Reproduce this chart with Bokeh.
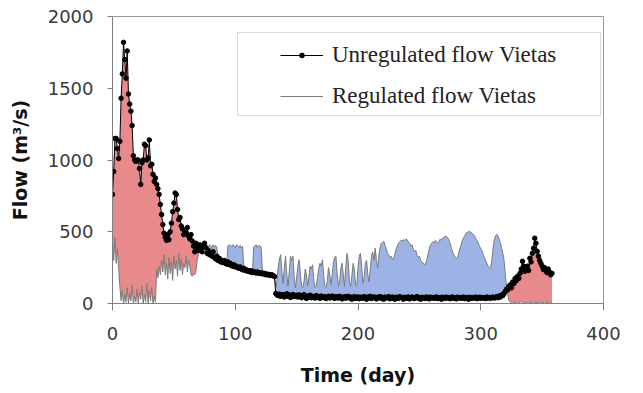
import numpy as np
from bokeh.plotting import figure
from bokeh.models import Legend, LegendItem, BoxAnnotation, FixedTicker, Range1d
from bokeh.embed import file_html
from bokeh.resources import INLINE

# ---------------- data (one value per day) ----------------
unregulated = [
    760, 920, 1150, 1150, 1080, 1010, 1130, 1430, 1600, 1820,
    1700, 1570, 1760, 1460, 1390, 1340, 1240, 1030, 1000, 990,
    1000, 1000, 940, 830, 980, 1000, 1110, 1100, 1000, 1015,
    1140, 960, 970, 900, 850, 875, 830, 800, 760, 690,
    620, 550, 490, 460, 440, 480, 445, 500, 560, 640,
    700, 770, 760, 655, 585, 600, 540, 520, 480, 500,
    490, 530, 470, 450, 480, 435, 400, 360, 420, 390,
    370, 410, 380, 360, 400, 420, 390, 350, 370, 340,
    350, 330, 360, 320, 310, 330, 300, 315, 290, 300,
    285, 300, 280, 275, 290, 270, 280, 265, 260, 270,
    255, 260, 250, 245, 255, 240, 235, 245, 230, 235,
    225, 230, 220, 228, 215, 223, 218, 212, 220, 210,
    215, 208, 212, 205, 210, 200, 205, 198, 202, 195,
    200, 192, 188,
    70, 60, 55, 65, 50, 58, 62, 45, 55, 68,
    50, 60, 42, 55, 63, 48, 52, 58, 45, 60,
    55, 40, 50, 62, 48, 35, 52, 45, 58, 40,
    50, 44, 38, 55, 42, 48, 36, 52, 45, 40,
    48, 35, 42, 50, 38, 45, 52, 40, 35, 48,
    42, 38, 50, 45, 32, 40, 48, 36, 44, 50,
    38, 45, 30, 42, 48, 35, 40, 46, 33, 44,
    40, 36, 48, 42, 30, 45, 38, 50, 35, 42,
    46, 38, 32, 44, 40, 48, 35, 42, 30, 45,
    38, 42, 48, 33, 40, 45, 36, 30, 44, 40,
    35, 48, 42, 38, 30, 44, 40, 36, 46, 32,
    40, 45, 38, 34, 42, 48, 36, 40, 30, 44,
    38, 42, 35, 46, 40, 32, 44, 38, 42, 36,
    40, 46, 34, 38, 42, 30, 44, 40, 36, 45,
    38, 42, 33, 40, 46, 36, 40, 32, 44, 38,
    42, 36, 40, 45, 34, 38, 42, 30, 44, 40,
    36, 42, 38, 45, 33, 40, 44, 36, 42, 38,
    40, 34, 45, 38, 42, 36, 40, 45, 38, 42,
    48, 40, 52, 45, 60, 55, 70, 85, 100, 95,
    120, 130, 110, 150, 140, 175, 160, 190, 175, 210,
    240, 294, 260, 224, 250, 260, 230, 315, 290, 350,
    385, 455, 420, 364, 330, 300, 280, 260, 237, 250,
    230, 215, 240, 220, 200, 210,
]

regulated = [
    420, 300, 460, 280, 380, 250, 120, 20, 90, 0,
    60, 10, 110, 0, 70, 20, 130, 0, 50, 10,
    100, 0, 80, 30, 120, 0, 60, 10, 140, 0,
    90, 20, 110, 0, 50, 10, 240, 180, 260, 200,
    300, 220, 340, 200, 280, 170, 320, 210, 290, 160,
    330, 240, 300, 190, 350, 230, 310, 200, 280, 250,
    330, 220, 300, 260, 200, 190, 210, 200, 230, 300,
    340, 380, 400, 410, 400, 410, 405, 400, 390, 410,
    400, 380, 410, 395, 405, 390, 300, 290, 280, 290,
    285, 280, 275, 270, 400, 410, 405, 395, 410, 400,
    390, 410, 400, 390, 405, 385, 400, 250, 225, 230,
    215, 225, 215, 225, 210, 395, 400, 410, 390, 405,
    400, 395, 250, 205, 205, 195, 200, 195, 198, 190,
    195, 188, 185,
    110, 160, 250, 310, 340, 220, 140, 250, 330, 200,
    120, 220, 330, 300, 330, 180, 110, 180, 260, 305,
    220, 120, 110, 150, 240, 200, 120, 180, 260, 240,
    270, 160, 110, 120, 180, 240, 280, 260, 305, 200,
    120, 110, 160, 250, 200, 130, 200, 290, 320, 330,
    210, 120, 150, 240, 280, 200, 120, 250, 350, 300,
    150, 120, 190, 280, 240, 130, 120, 250, 330, 350,
    260, 140, 180, 280, 300, 200, 150, 240, 330, 360,
    300, 385, 300, 250, 330, 390, 420, 425, 434, 410,
    380, 350, 340, 320, 330, 310, 307, 340, 380, 400,
    420, 430, 440, 435, 445, 440, 447, 445, 430, 420,
    400, 410, 380, 360, 370, 340, 320, 330, 300, 290,
    280, 275, 272, 300, 340, 380, 410, 420, 430, 425,
    440, 430, 420, 430, 450, 440, 455, 460, 465, 469,
    460, 440, 420, 390, 360, 340, 325, 315, 320, 350,
    380, 410, 440, 460, 470, 490, 495, 500, 503, 495,
    490, 480, 470, 450, 440, 420, 400, 380, 370, 340,
    320, 300, 280, 260, 250, 245, 300, 380, 440, 470,
    483, 470, 450, 420, 390, 350, 300, 200, 120, 60,
    20, 10, 5, 15, 0, 10, 5, 12, 0, 8,
    15, 5, 10, 0, 12, 6, 10, 4, 14, 0,
    8, 12, 5, 10, 0, 15, 6, 10, 4, 12,
    5, 10, 0, 8, 6, 10,
]

n = min(len(unregulated), len(regulated))
unregulated = unregulated[:n]
regulated = regulated[:n]
days = list(range(n))
x_ticks = [0, 100, 200, 300, 400]
y_ticks = [0, 500, 1000, 1500, 2000]

# insert crossing points so the two fills switch colour exactly where the lines cross
xs, u, r = [], [], []
for i in range(n):
    if i > 0:
        d0 = unregulated[i - 1] - regulated[i - 1]
        d1 = unregulated[i] - regulated[i]
        if d0 * d1 < 0:
            t = d0 / (d0 - d1)
            xc = days[i - 1] + t * (days[i] - days[i - 1])
            yc = unregulated[i - 1] + t * (unregulated[i] - unregulated[i - 1])
            xs.append(xc); u.append(yc); r.append(yc)
    xs.append(days[i]); u.append(unregulated[i]); r.append(regulated[i])
xs = np.array(xs, dtype=float)
u = np.array(u, dtype=float)
r = np.array(r, dtype=float)
top = np.maximum(u, r)

# ---------------- figure ----------------
W, H = 643, 393
L, R, T, B = 112, 40, 16, 90
p = figure(width=W, height=H, x_range=Range1d(0, 400), y_range=Range1d(0, 2000),
           output_backend="svg", toolbar_location=None,
           min_border_left=L, min_border_right=R, min_border_top=T, min_border_bottom=B)
p.background_fill_color = "white"
p.border_fill_color = "white"
p.outline_line_color = "#999999"
p.outline_line_width = 1
p.xgrid.visible = False
p.ygrid.visible = False

red = "#E8898C"
blue = "#9DB3E6"
p.varea(x=xs, y1=r, y2=top, fill_color=red, fill_alpha=1)
p.varea(x=xs, y1=u, y2=top, fill_color=blue, fill_alpha=1)
reg_line = p.line(days, regulated, line_color="#7a7a7a", line_width=1)
unreg_line = p.line(days, unregulated, line_color="black", line_width=1)
unreg_pts = p.scatter(days, unregulated, marker="circle", size=4.5,
                      fill_color="black", line_color="black")

# axes
for ax in (p.xaxis, p.yaxis):
    ax.axis_line_color = "#7f7f7f"
    ax.major_tick_line_color = "#7f7f7f"
    ax.minor_tick_line_color = None
    ax.major_tick_in = 0
    ax.major_label_text_font = "DejaVu Sans"
    ax.major_label_text_font_size = "18px"
    ax.major_label_text_color = "#3a3a3a"
    ax.axis_label_text_font = "DejaVu Sans"
    ax.axis_label_text_font_style = "bold"
    ax.axis_label_text_font_size = "19px"
    ax.axis_label_text_color = "#111111"

p.xaxis.ticker = FixedTicker(ticks=x_ticks)
p.yaxis.ticker = FixedTicker(ticks=y_ticks)
p.xaxis.major_tick_out = 7
p.yaxis.major_tick_out = 5
p.xaxis.major_label_standoff = 16
p.yaxis.major_label_standoff = 14
p.xaxis.axis_label = "Time (day)"
p.yaxis.axis_label = "Flow (m³/s)"
p.xaxis.axis_label_standoff = 21
p.yaxis.axis_label_standoff = 14

# legend frame (pixel positions converted to data units)
fw, fh = W - L - R, H - T - B
def px_x(px):
    return (px - L) / fw * 400
def px_y(py):
    return (T + fh - py) / fh * 2000
box = BoxAnnotation(left=px_x(237), right=px_x(600), top=px_y(32), bottom=px_y(115),
                    fill_color="white", fill_alpha=1, line_color="#8a8a8a", line_width=1)
p.add_layout(box)

legend = Legend(items=[
    LegendItem(label="Unregulated flow Vietas", renderers=[unreg_line, unreg_pts]),
    LegendItem(label="Regulated flow Vietas", renderers=[reg_line]),
], location=(280 - 10 - L, (T + fh) - 119))
legend.label_text_font = "Liberation Serif"
legend.label_text_font_size = "23px"
legend.label_text_color = "#222222"
legend.glyph_width = 43
legend.glyph_height = 12
legend.label_height = 26
legend.spacing = 15
legend.padding = 10
legend.label_standoff = 9
legend.border_line_alpha = 0
legend.background_fill_alpha = 0
p.add_layout(legend)

open("out.html", "w").write(file_html(p, INLINE))
